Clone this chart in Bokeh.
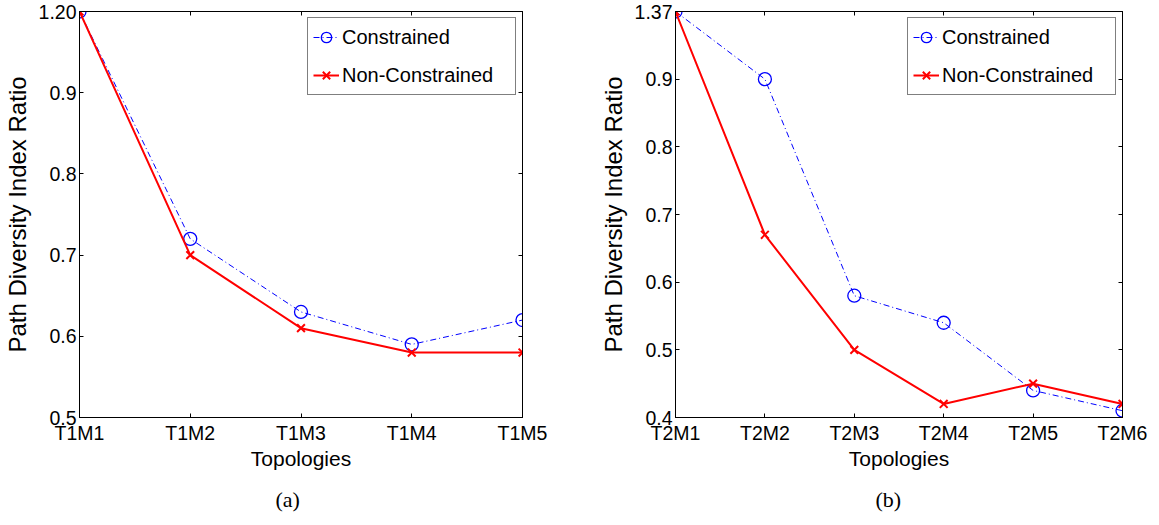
from bokeh.plotting import figure
from bokeh.models import FixedTicker, LinearAxis, Range1d, Legend, LegendItem, Title
from bokeh.layouts import row
from bokeh.embed import file_html
from bokeh.resources import INLINE

# ---- data (a) ----
topologies_a = ["T1M1", "T1M2", "T1M3", "T1M4", "T1M5"]
constrained_a = [1.0, 0.72, 0.63, 0.59, 0.62]
nonconstrained_a = [1.0, 0.70, 0.61, 0.58, 0.58]
yticks_a = [0.5, 0.6, 0.7, 0.8, 0.9, 1.0]
ytick_labels_a = ["0.5", "0.6", "0.7", "0.8", "0.9", "1.20"]

# ---- data (b) ----
topologies_b = ["T2M1", "T2M2", "T2M3", "T2M4", "T2M5", "T2M6"]
constrained_b = [1.0, 0.90, 0.58, 0.54, 0.44, 0.41]
nonconstrained_b = [1.0, 0.67, 0.50, 0.42, 0.45, 0.42]
yticks_b = [0.4, 0.5, 0.6, 0.7, 0.8, 0.9, 1.0]
ytick_labels_b = ["0.4", "0.5", "0.6", "0.7", "0.8", "0.9", "1.37"]

series_names = ["Constrained", "Non-Constrained"]
x_label = "Topologies"
y_label = "Path Diversity Index Ratio"

SANS = "Liberation Sans"
SERIF = "Liberation Serif"


def style_axis(ax, labels=True):
    ax.major_tick_in = 4
    ax.major_tick_out = 0
    ax.minor_tick_line_color = None
    ax.axis_line_color = "black"
    ax.major_tick_line_color = "black"
    if labels:
        ax.major_label_text_font = SANS
        ax.major_label_text_font_size = "19.5px"
        ax.major_label_text_color = "black"
    else:
        ax.major_label_text_font_size = "0px"
        ax.major_label_text_alpha = 0


def make_panel(cats, cons, noncons, yticks, ylabels, caption, width,
               min_left, min_right, cap_offset):
    xs = list(range(len(cats)))
    p = figure(width=width, height=525, output_backend="svg", toolbar_location=None,
               x_range=Range1d(0, len(cats) - 1),
               y_range=Range1d(yticks[0], yticks[-1]),
               min_border_left=min_left, min_border_right=min_right,
               min_border_top=11, min_border_bottom=108)
    p.grid.visible = False
    p.outline_line_color = "black"
    p.outline_line_width = 1
    p.background_fill_color = "white"
    p.border_fill_color = "white"

    xticker = FixedTicker(ticks=xs)
    yticker = FixedTicker(ticks=yticks)

    p.xaxis.ticker = xticker
    p.xaxis.major_label_overrides = {i: c for i, c in zip(xs, cats)}
    p.yaxis.ticker = yticker
    p.yaxis.major_label_overrides = {t: l for t, l in zip(yticks, ylabels)}
    for ax in p.xaxis + p.yaxis:
        style_axis(ax)
    p.xaxis.major_label_standoff = 4
    p.yaxis.major_label_standoff = 3
    p.xaxis.axis_label = x_label
    p.xaxis.axis_label_standoff = 0
    p.xaxis.axis_label_text_font = SANS
    p.xaxis.axis_label_text_font_size = "21px"
    p.xaxis.axis_label_text_font_style = "normal"
    p.xaxis.axis_label_text_color = "black"
    p.yaxis.axis_label = y_label
    p.yaxis.axis_label_standoff = 5
    p.yaxis.axis_label_text_font = SANS
    p.yaxis.axis_label_text_font_size = "24px"
    p.yaxis.axis_label_text_font_style = "normal"
    p.yaxis.axis_label_text_color = "black"

    top = LinearAxis(ticker=xticker)
    style_axis(top, labels=False)
    p.add_layout(top, "above")
    right = LinearAxis(ticker=yticker)
    style_axis(right, labels=False)
    p.add_layout(right, "right")

    l1 = p.line(xs, cons, line_color="blue", line_width=1, line_dash="6 3 1 3")
    m1 = p.scatter(xs, cons, marker="circle", size=13, fill_color=None,
                   line_color="blue", line_width=1.3)
    l2 = p.line(xs, noncons, line_color="red", line_width=2)
    m2 = p.scatter(xs, noncons, marker="x", size=11, line_color="red", line_width=2)

    legend = Legend(items=[LegendItem(label=series_names[0], renderers=[l1, m1]),
                           LegendItem(label=series_names[1], renderers=[l2, m2])],
                    location="top_right")
    legend.margin = 6
    legend.padding = 5
    legend.spacing = 10
    legend.glyph_width = 26
    legend.glyph_height = 28
    legend.label_height = 28
    legend.label_width = 168
    legend.label_standoff = 3
    legend.label_text_font = SANS
    legend.label_text_font_size = "20px"
    legend.label_text_color = "black"
    legend.border_line_color = "black"
    legend.border_line_width = 1
    legend.background_fill_alpha = 1
    p.add_layout(legend, "center")

    t = Title(text=caption, align="left", offset=cap_offset,
              text_font=SERIF, text_font_size="22px", text_font_style="normal",
              text_color="black", standoff=25)
    p.add_layout(t, "below")
    return p


p1 = make_panel(topologies_a, constrained_a, nonconstrained_a, yticks_a, ytick_labels_a,
                "(a)", 590, 75, 68, 196)
p2 = make_panel(topologies_b, constrained_b, nonconstrained_b, yticks_b, ytick_labels_b,
                "(b)", 569, 85, 37, 200)

layout = row(p1, p2)
open("out.html", "w").write(file_html(layout, INLINE))
